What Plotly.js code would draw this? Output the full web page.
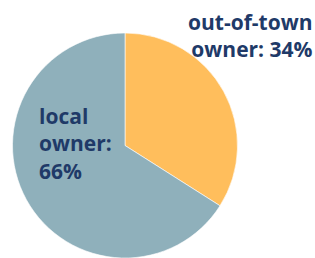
<!DOCTYPE html>
<html><head><meta charset="utf-8">
<script src="https://cdn.plot.ly/plotly-3.0.1.min.js"></script>
<style>html,body{margin:0;padding:0;background:#fff;}#chart{width:315px;height:258px;}</style>
</head><body><div id="chart"></div>
<script>
const labels = ["out-of-town owner", "local owner"];
const values = [34, 66];
const colors = ["#ffbe5c", "#8fb0bb"];

const navy = "#1f3a68";
const font = {family: "Open Sans, Lato, sans-serif", size: 21, color: navy, weight: 700};

const data = [{
  type: "pie",
  labels: labels,
  values: values,
  sort: false,
  direction: "clockwise",
  rotation: 0,
  textinfo: "none",
  hoverinfo: "label+percent",
  marker: {colors: colors, line: {color: "#ffffff", width: 0.6}},
  domain: {x: [12/315, 238/315], y: [0, 1 - 33/258]},
  showlegend: false
}];

const layout = {
  width: 315, height: 258,
  margin: {l: 0, r: 0, t: 0, b: 0},
  paper_bgcolor: "#ffffff",
  showlegend: false,
  annotations: [
    {xref: "paper", yref: "paper", x: 37/315, y: 1 - 143/258, xanchor: "left", yanchor: "middle",
     align: "left", showarrow: false, font: font,
     text: "<b>local</b><br><b>owner:</b><br><b>" + values[1] + "%</b>"},
    {xref: "paper", yref: "paper", x: 1, y: 1 - 35/258, xanchor: "right", yanchor: "middle",
     align: "right", showarrow: false, font: font,
     text: "<b>out-of-town</b><br><b>owner: " + values[0] + "%</b>"}
  ]
};
Plotly.newPlot("chart", data, layout, {displayModeBar: false, staticPlot: true});
</script></body></html>
